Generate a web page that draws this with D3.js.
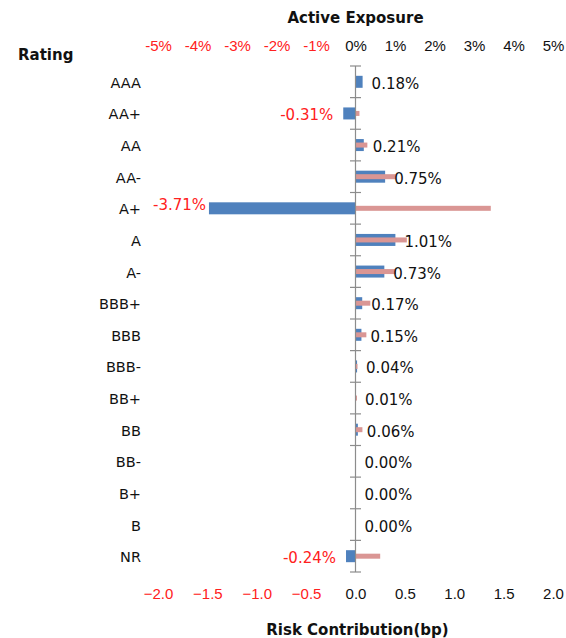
<!DOCTYPE html>
<html>

<head>
    <meta charset="utf-8">
    <style>
        body {
            margin: 0;
            background: #fff;
        }

        svg {
            font-family: 'DejaVu Sans', Verdana, sans-serif;
        }

        .axis .domain {
            display: none;
        }

        .axis .tick text {
            font-size: 15px;
        }

        .cat {
            font-size: 14.5px;
            fill: #111;
        }

        .title {
            font-size: 15px;
            font-weight: bold;
            fill: #111;
        }

        .val {
            font-size: 15px;
        }
    </style>
</head>

<body>
    <svg width="566" height="638"></svg>
</body>

<script src="https://d3js.org/d3.v7.min.js"></script>

<script>
    // ratings, top to bottom
    let ratings = ["AAA", "AA+", "AA", "AA-", "A+", "A", "A-", "BBB+", "BBB", "BBB-", "BB+", "BB", "BB-", "B+", "B", "NR"]

    // active exposure in %
    let activeExposure = [0.18, -0.31, 0.21, 0.75, -3.71, 1.01, 0.73, 0.17, 0.15, 0.04, 0.01, 0.06, 0.00, 0.00, 0.00, -0.24]

    // risk contribution in bp
    let riskContribution = [0, 0.04, 0.12, 0.41, 1.37, 0.52, 0.41, 0.15, 0.11, 0.02, 0.015, 0.07, 0, 0, 0, 0.25]

    let exposureTicks = [-5, -4, -3, -2, -1, 0, 1, 2, 3, 4, 5]
    let riskTicks = [-2.0, -1.5, -1.0, -0.5, 0.0, 0.5, 1.0, 1.5, 2.0]

    let data = ratings.map(function (r, i) {
        return { rating: r, exposure: activeExposure[i], risk: riskContribution[i] }
    })

    let svg = d3.select("svg")

    let plotLeft = 158, plotRight = 553
    let plotTop = 66, plotBottom = 572

    let xExp = d3.scaleLinear()
        .domain([-5, 5])
        .range([plotLeft, plotRight])

    let xRisk = d3.scaleLinear()
        .domain([-2, 2])
        .range([plotLeft, plotRight])

    let y = d3.scaleBand()
        .domain(ratings)
        .range([plotTop, plotBottom])
        .paddingInner(0)

    let blue = "#4f81bd"
    let pink = "#da9694"
    let red = "#ff2020"

    // top axis - active exposure
    let topAxis = svg.append("g")
        .attr("class", "axis")
        .attr("transform", "translate(0,51)")
        .call(d3.axisTop(xExp)
            .tickValues(exposureTicks)
            .tickSize(0)
            .tickPadding(0)
            .tickFormat(d => d + "%"))

    topAxis.selectAll(".tick text")
        .style("fill", d => d < 0 ? red : "#111")

    // bottom axis - risk contribution
    let bottomAxis = svg.append("g")
        .attr("class", "axis")
        .attr("transform", "translate(0,584)")
        .call(d3.axisBottom(xRisk)
            .tickValues(riskTicks)
            .tickSize(0)
            .tickPadding(4)
            .tickFormat(d3.format(".1f")))

    bottomAxis.selectAll(".tick text")
        .style("fill", d => d < 0 ? red : "#111")

    svg.append("text")
        .attr("class", "title")
        .attr("x", xExp(0))
        .attr("y", 23)
        .attr("text-anchor", "middle")
        .text("Active Exposure")

    svg.append("text")
        .attr("class", "title")
        .attr("x", xRisk(0) + 2)
        .attr("y", 635)
        .attr("text-anchor", "middle")
        .text("Risk Contribution(bp)")

    svg.append("text")
        .attr("class", "title")
        .attr("x", 18)
        .attr("y", 60)
        .text("Rating")

    // category labels
    svg.append("g")
        .selectAll("text")
        .data(data)
        .join("text")
        .attr("class", "cat")
        .attr("x", 141)
        .attr("y", d => y(d.rating) + y.bandwidth() / 2 + 6)
        .attr("text-anchor", "end")
        .text(d => d.rating)

    // blue bars
    svg.append("g")
        .selectAll("rect")
        .data(data)
        .join("rect")
        .attr("x", d => Math.min(xExp(d.exposure), xExp(0)))
        .attr("width", d => Math.abs(xExp(d.exposure) - xExp(0)))
        .attr("y", d => y(d.rating) + y.bandwidth() / 2 - 6)
        .attr("height", 12)
        .style("fill", blue)

    // pink bars on top
    svg.append("g")
        .selectAll("rect")
        .data(data)
        .join("rect")
        .attr("x", d => Math.min(xRisk(d.risk), xRisk(0)))
        .attr("width", d => Math.abs(xRisk(d.risk) - xRisk(0)))
        .attr("y", d => y(d.rating) + y.bandwidth() / 2 - 2.5)
        .attr("height", 5)
        .style("fill", pink)

    // vertical axis at zero with ticks between ratings
    let zeroX = xExp(0)
    let axisG = svg.append("g")
    axisG.append("line")
        .attr("x1", zeroX)
        .attr("x2", zeroX)
        .attr("y1", plotTop)
        .attr("y2", plotBottom)
        .style("stroke", "#8c8c8c")
        .style("stroke-width", "1.2px")

    let boundaries = d3.range(ratings.length + 1).map(i => plotTop + i * y.step())
    axisG.selectAll(".ytick")
        .data(boundaries)
        .join("line")
        .attr("class", "ytick")
        .attr("x1", zeroX - 5.5)
        .attr("x2", zeroX + 5.5)
        .attr("y1", d => d)
        .attr("y2", d => d)
        .style("stroke", "#8c8c8c")
        .style("stroke-width", "1.2px")

    // value labels
    let labels = svg.append("g")
        .selectAll("text")
        .data(data)
        .join("text")
        .attr("class", "val")
        .attr("y", d => y(d.rating) + y.bandwidth() / 2 + 7)
        .style("fill", d => d.exposure < 0 ? red : "#111")
        .attr("text-anchor", d => d.exposure < 0 ? "end" : "start")
        .text(d => d.exposure.toFixed(2) + "%")

    labels.each(function (d) {
        let t = d3.select(this)
        if (d.exposure < 0) {
            let w = this.getComputedTextLength()
            let end = xExp(d.exposure) - 10
            // keep label inside the plot, move it up a bit when pushed
            if (end - w < plotLeft - 5) {
                t.attr("x", plotLeft - 5 + w)
                t.attr("y", +t.attr("y") - 5)
            } else {
                t.attr("x", end)
            }
        } else {
            t.attr("x", xExp(d.exposure) + 9)
        }
    })
</script>

</html>
